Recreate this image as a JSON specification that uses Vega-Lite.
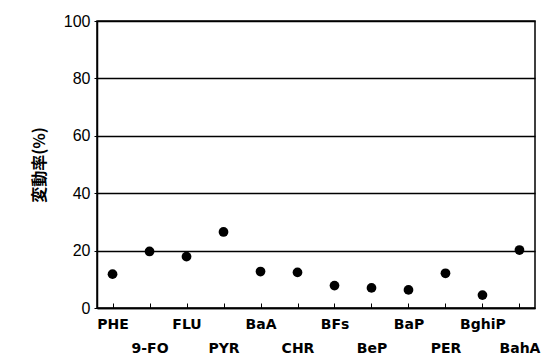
{
  "$schema": "https://vega.github.io/schema/vega-lite/v6.json",
  "autosize": "none",
  "padding": {"left": 97, "top": 21, "right": 13, "bottom": 52},
  "width": 438,
  "height": 287,
  "background": "white",
  "config": {
    "view": {"stroke": "black", "strokeWidth": 1.5},
    "axis": {"grid": false}
  },
  "data": {
    "values": [
      {"compound": "PHE", "cv": 11.8},
      {"compound": "9-FO", "cv": 19.7},
      {"compound": "FLU", "cv": 17.9},
      {"compound": "PYR", "cv": 26.5},
      {"compound": "BaA", "cv": 12.7},
      {"compound": "CHR", "cv": 12.4},
      {"compound": "BFs", "cv": 7.8},
      {"compound": "BeP", "cv": 7.0},
      {"compound": "BaP", "cv": 6.3},
      {"compound": "PER", "cv": 12.1},
      {"compound": "BghiP", "cv": 4.5},
      {"compound": "BahA", "cv": 20.2}
    ]
  },
  "mark": {"type": "circle", "size": 95, "color": "black", "opacity": 1},
  "encoding": {
    "x": {
      "field": "compound",
      "type": "nominal",
      "sort": null,
      "scale": {"type": "point", "padding": 0.42},
      "axis": {
        "title": null,
        "labelAngle": 0,
        "labelFont": "DejaVu Sans",
        "labelFontWeight": "bold",
        "labelFontSize": 14,
        "labelColor": "black",
        "labelPadding": 14,
        "labelLineHeight": 24,
        "labelBaseline": "top",
        "labelExpr": "indexof(['9-FO','PYR','CHR','BeP','PER','BahA'], datum.value) >= 0 ? ['', datum.label] : datum.label",
        "domainColor": "black",
        "domainWidth": 1.5,
        "tickColor": "black",
        "tickSize": -5,
        "tickWidth": 1
      }
    },
    "y": {
      "field": "cv",
      "type": "quantitative",
      "scale": {"domain": [0, 100]},
      "axis": {
        "title": "変動率(%)",
        "titleFont": "Noto Sans CJK JP",
        "titleFontWeight": "bold",
        "titleFontSize": 16,
        "titleColor": "black",
        "titlePadding": 16,
        "values": [0, 20, 40, 60, 80, 100],
        "grid": true,
        "gridColor": "black",
        "gridWidth": 1.3,
        "gridOpacity": 1,
        "labelFont": "Liberation Sans",
        "labelFontSize": 16,
        "labelColor": "black",
        "labelPadding": 4,
        "domainColor": "black",
        "domainWidth": 1.5,
        "tickColor": "black",
        "tickSize": 3
      }
    }
  }
}
